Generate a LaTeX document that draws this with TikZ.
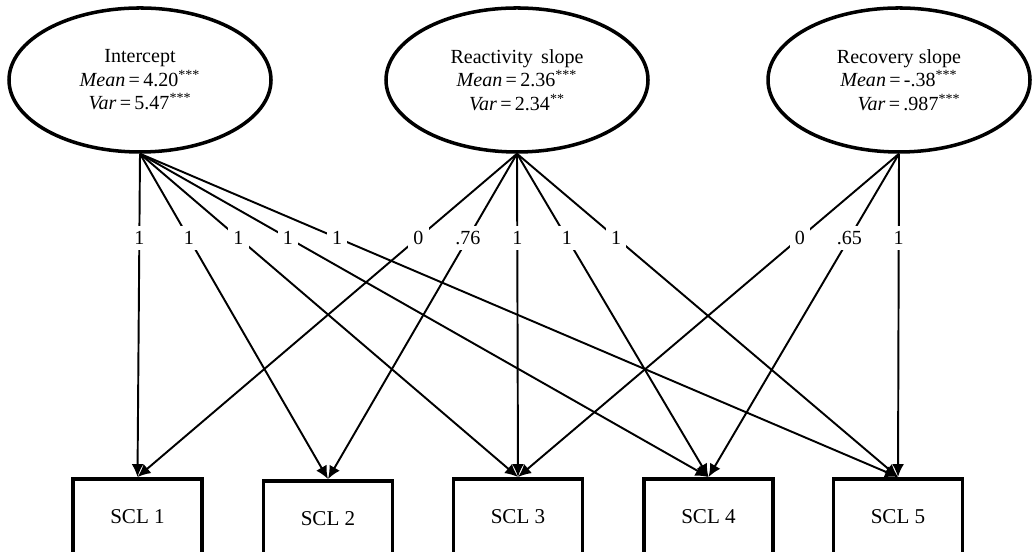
\documentclass[tikz,border=0pt]{standalone}
\usepackage{fontspec}
\setmainfont{Liberation Serif}
\usetikzlibrary{arrows.meta,shapes.geometric}

\begin{document}
\begin{tikzpicture}[
  font=\fontsize{11.4}{13.4}\selectfont,
  >={Latex[length=2.6mm,width=2.4mm]},
  lat/.style={ellipse, draw, line width=2pt, align=center, inner sep=0pt,
              minimum width=5.24cm, minimum height=2.88cm},
  obs/.style={draw, line width=2.2pt, minimum width=2.58cm, minimum height=1.52cm,
              font=\fontsize{12}{14}\selectfont},
  arr/.style={->, line width=1.1pt},
  lbl/.style={fill=white, inner sep=3pt, pos=0.26}
]
\useasboundingbox (0,0) rectangle (20.64,11.04);

% ---- latent growth factors ----
\node[lat] (icpt) at (2.80,9.44) {Intercept\\\textit{Mean}\,=\,4.20\textsuperscript{***}\\\textit{Var}\,=\,5.47\textsuperscript{***}};
\node[lat] (react) at (10.34,9.44) {Reactivity\, slope\\\textit{Mean}\,=\,2.36\textsuperscript{***}\\\textit{Var}\,=\,2.34\textsuperscript{**}};
\node[lat] (recov) at (17.98,9.44) {Recovery slope\\\textit{Mean}\,=\,-.38\textsuperscript{***}\\\quad\textit{Var}\,=\,.987\textsuperscript{***}};

% ---- observed SCL measures ----
\node[obs] (scl1) at (2.75,0.70) {SCL 1};
\node[obs] (scl2) at (6.56,0.66) {SCL 2};
\node[obs] (scl3) at (10.36,0.70) {SCL 3};
\node[obs] (scl4) at (14.17,0.70) {SCL 4};
\node[obs] (scl5) at (17.96,0.70) {SCL 5};

% ---- intercept loadings ----
\draw[arr] (icpt.south) -- node[lbl] {1} (scl1.north);
\draw[arr] (icpt.south) -- node[lbl] {1} (scl2.north);
\draw[arr] (icpt.south) -- node[lbl] {1} (scl3.north);
\draw[arr] (icpt.south) -- node[lbl] {1} (scl4.north);
\draw[arr] (icpt.south) -- node[lbl] {1} (scl5.north);

% ---- reactivity loadings ----
\draw[arr] (react.south) -- node[lbl] {0} (scl1.north);
\draw[arr] (react.south) -- node[lbl] {.76} (scl2.north);
\draw[arr] (react.south) -- node[lbl] {1} (scl3.north);
\draw[arr] (react.south) -- node[lbl] {1} (scl4.north);
\draw[arr] (react.south) -- node[lbl] {1} (scl5.north);

% ---- recovery loadings ----
\draw[arr] (recov.south) -- node[lbl] {0} (scl3.north);
\draw[arr] (recov.south) -- node[lbl] {.65} (scl4.north);
\draw[arr] (recov.south) -- node[lbl] {1} (scl5.north);
\end{tikzpicture}
\end{document}
